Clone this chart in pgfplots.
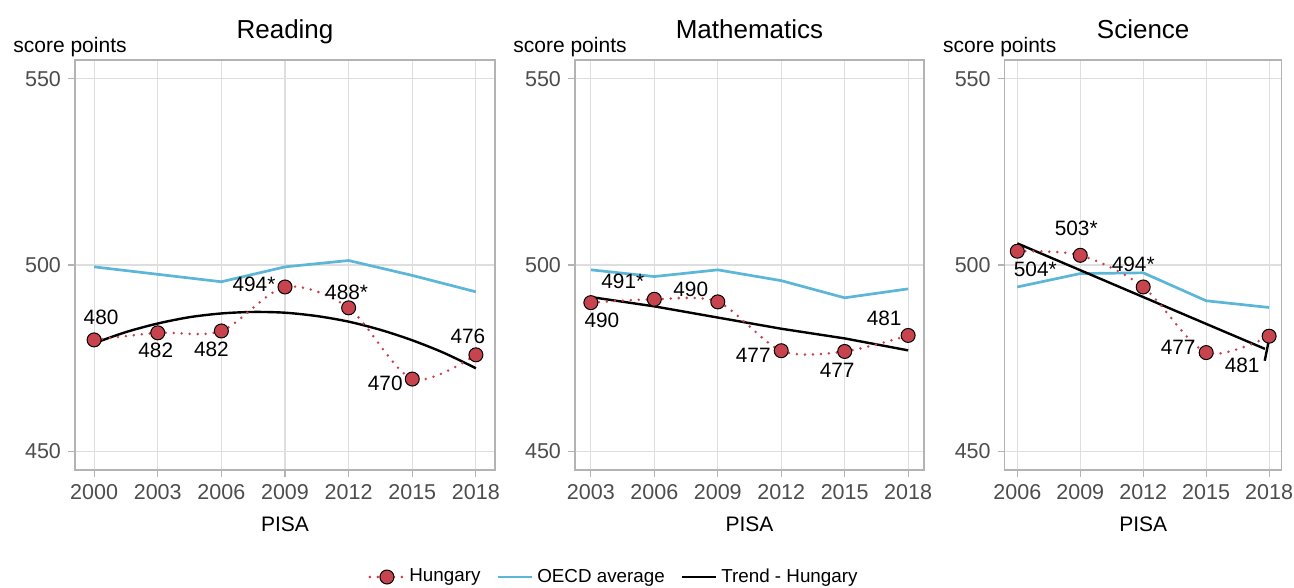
\documentclass[border=0pt]{standalone}
\usepackage{fontspec}
\setmainfont{Liberation Sans}
\usepackage{pgfplots}
\pgfplotsset{compat=1.18}
\definecolor{hred}{RGB}{199,68,78}
\definecolor{oecd}{RGB}{91,182,216}
\definecolor{g70}{RGB}{179,179,179}
\definecolor{g87}{RGB}{222,222,222}
\definecolor{g93}{RGB}{237,237,237}
\definecolor{g30}{RGB}{77,77,77}
\tikzset{lab/.style={font=\fontsize{10.4}{12}\selectfont, inner sep=0pt, anchor=center}}
\pgfplotsset{
 panel/.style={
   scale only axis, height=205pt, ymin=445, ymax=555, ytick={450,500,550},
   clip=false,
   axis line style={draw=g70, line width=0.65pt},
   xmajorgrids, ymajorgrids, xminorgrids, minor x tick num=1,
   major grid style={draw=g87, line width=0.55pt},
   minor grid style={draw=g93, line width=0.4pt},
   tick align=outside, major tick length=3.5pt, minor tick length=0pt,
   tick style={draw=g70, line width=0.55pt},
   xtick pos=left, ytick pos=left,
   /pgf/number format/assume math mode=true,
   /pgf/number format/1000 sep={},
   ticklabel style={font=\fontsize{10.75}{12}\selectfont, text=g30},
   xlabel={PISA},
   xlabel style={at={(axis description cs:0.5,0)}, anchor=center, yshift=-27pt, font=\fontsize{10.5}{12}\selectfont, inner sep=0pt},
   ylabel={score points},
   every axis y label/.style={at={(axis description cs:0,1)}, anchor=base west, xshift=-31pt, yshift=3.65pt, font=\fontsize{10.5}{12}\selectfont, inner sep=0pt},
   every axis title/.style={at={(axis description cs:0.5,1)}, anchor=base, yshift=10.85pt, font=\fontsize{13}{15}\selectfont, inner sep=0pt},
 },
 hung/.style={hred, smooth, line width=1.4pt, dash pattern=on 0pt off 4pt, line cap=round, mark=*, mark size=3.5pt, mark options={solid, fill=hred, draw=black, line width=0.5pt}},
 oecdl/.style={oecd, line width=1.35pt, no marks},
 trendl/.style={black, line width=1.2pt, no marks},
}
\begin{document}
\begin{tikzpicture}
\path[use as bounding box] (0,0) rectangle (647pt,294pt);
% Reading
\begin{axis}[panel, at={(37.5pt,59pt)}, anchor=south west, width=210pt,
  xmin=1999.1, xmax=2018.9, xtick={2000,2003,...,2018}, title={Reading}]
\addplot[oecdl] coordinates {(2000,499.5)(2003,497.5)(2006,495.5)(2009,499.5)(2012,501.2)(2015,497.2)(2018,492.8)};
\addplot[trendl, smooth] coordinates {(2000,479.0)(2001.5,482.0)(2003,484.3)(2004.5,486.0)(2006,487.0)(2007.5,487.4)(2009,487.2)(2010.5,486.3)(2012,484.8)(2013.5,482.6)(2015,479.8)(2016.5,476.4)(2018,472.3)};
\addplot[hung] coordinates {(2000,479.9)(2003,481.8)(2006,482.3)(2009,494.1)(2012,488.5)(2015,469.4)(2018,475.9)};
\node[lab, xshift=3.5pt, yshift=11.5pt] at (axis cs:2000,479.9) {480};
\node[lab, xshift=-1pt, yshift=-9pt] at (axis cs:2003,481.8) {482};
\node[lab, xshift=-5pt, yshift=-9pt] at (axis cs:2006,482.3) {482};
\node[lab, xshift=-15.5pt, yshift=1.5pt] at (axis cs:2009,494.1) {494*};
\node[lab, xshift=-1pt, yshift=8pt] at (axis cs:2012,488.5) {488*};
\node[lab, xshift=-13.5pt, yshift=-2pt] at (axis cs:2015,469.4) {470};
\node[lab, xshift=-4pt, yshift=9pt] at (axis cs:2018,475.9) {476};
\end{axis}
% Mathematics
\begin{axis}[panel, at={(287.5pt,59pt)}, anchor=south west, width=174.5pt,
  xmin=2002.25, xmax=2018.75, xtick={2003,2006,...,2018}, title={Mathematics},
  legend style={at={(0.1146,-0.261)}, anchor=center, draw=none, fill=none, legend columns=3,
    font=\fontsize{9.4}{11}\selectfont, /tikz/every even column/.append style={column sep=6pt}}]
\addlegendimage{hung}\addlegendentry{Hungary}
\addlegendimage{oecdl}\addlegendentry{OECD average}
\addlegendimage{trendl}\addlegendentry{Trend - Hungary}
\addplot[oecdl, forget plot] coordinates {(2003,498.7)(2006,496.9)(2009,498.7)(2012,495.8)(2015,491.2)(2018,493.6)};
\addplot[trendl, forget plot] coordinates {(2003,491.4)(2006,488.9)(2009,485.9)(2012,482.9)(2015,480.3)(2018,477.1)};
\addplot[hung, forget plot] coordinates {(2003,489.9)(2006,490.8)(2009,490.1)(2012,477.0)(2015,476.8)(2018,481.1)};
\node[lab, xshift=5.5pt, yshift=-9pt] at (axis cs:2003,489.9) {490};
\node[lab, xshift=-15.75pt, yshift=8.85pt] at (axis cs:2006,490.8) {491*};
\node[lab, xshift=-13.5pt, yshift=6.5pt] at (axis cs:2009,490.1) {490};
\node[lab, xshift=-14pt, yshift=-2.5pt] at (axis cs:2012,477.0) {477};
\node[lab, xshift=-3.75pt, yshift=-9.5pt] at (axis cs:2015,476.8) {477};
\node[lab, xshift=-12pt, yshift=8.5pt] at (axis cs:2018,481.1) {481};
\end{axis}
% Science
\begin{axis}[panel, at={(502.35pt,59pt)}, anchor=south west, width=138.5pt,
  xmin=2005.4, xmax=2018.6, xtick={2006,2009,...,2018}, title={Science}]
\addplot[oecdl] coordinates {(2006,494.1)(2009,497.7)(2012,497.9)(2015,490.4)(2018,488.6)};
\addplot[trendl] coordinates {(2006,505.8)(2009,498.6)(2012,491.4)(2015,484.2)(2017.8,477.5)};
\addplot[trendl] coordinates {(2017.79,474.3)(2018.03,481.0)};
\addplot[hung] coordinates {(2006,503.7)(2009,502.6)(2012,494.1)(2015,476.5)(2018,480.9)};
\node[lab, xshift=9pt, yshift=-9pt] at (axis cs:2006,503.7) {504*};
\node[lab, xshift=-2pt, yshift=13.5pt] at (axis cs:2009,502.6) {503*};
\node[lab, xshift=-5pt, yshift=11.5pt] at (axis cs:2012,494.1) {494*};
\node[lab, xshift=-14pt, yshift=2.5pt] at (axis cs:2015,476.5) {477};
\node[lab, xshift=-13.5pt, yshift=-14.5pt] at (axis cs:2018,480.9) {481};
\end{axis}
\end{tikzpicture}
\end{document}
